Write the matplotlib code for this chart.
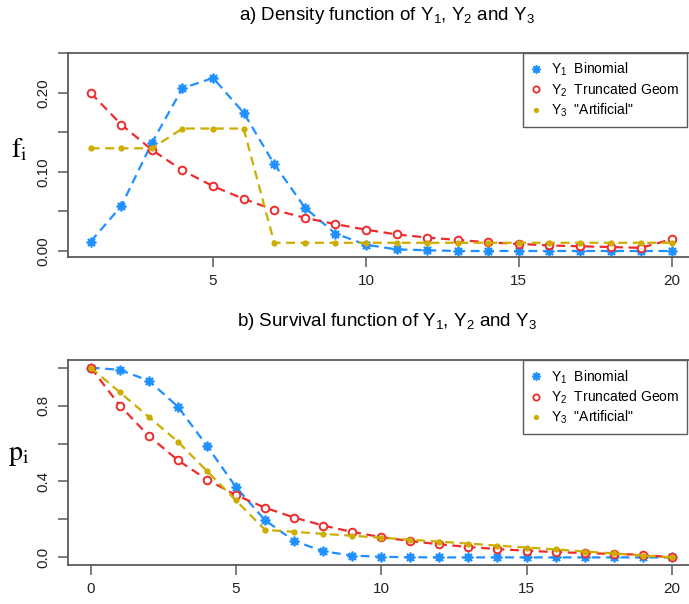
import matplotlib.pyplot as plt
from matplotlib.lines import Line2D

plt.rcParams['font.family'] = ['Liberation Sans', 'DejaVu Sans']
plt.rcParams['mathtext.default'] = 'regular'
plt.rcParams['mathtext.fontset'] = 'stix'

# support points
x_dens = list(range(1, 21))
x_surv = list(range(0, 21))

# densities f_i
f_binom = [0.012, 0.057, 0.137, 0.206, 0.219, 0.175, 0.110, 0.055, 0.022, 0.008,
           0.002, 0.001, 0.000, 0.000, 0.000, 0.000, 0.000, 0.000, 0.000, 0.000]
f_geom = [0.200, 0.160, 0.128, 0.102, 0.082, 0.066, 0.052, 0.042, 0.034, 0.027,
          0.021, 0.017, 0.014, 0.011, 0.009, 0.007, 0.006, 0.005, 0.004, 0.015]
f_art = [0.130, 0.130, 0.130, 0.155, 0.155, 0.155, 0.0104, 0.0104, 0.0104, 0.0104,
         0.0104, 0.0104, 0.0104, 0.0104, 0.0104, 0.0104, 0.0104, 0.0104, 0.0104, 0.0104]

# survival p_i
p_binom = [1.000, 0.988, 0.931, 0.794, 0.588, 0.370, 0.196, 0.087, 0.032, 0.010, 0.003,
           0.001, 0.000, 0.000, 0.000, 0.000, 0.000, 0.000, 0.000, 0.000, 0.000]
p_geom = [1.000, 0.800, 0.640, 0.512, 0.410, 0.328, 0.262, 0.210, 0.168, 0.134, 0.107,
          0.086, 0.069, 0.055, 0.044, 0.035, 0.028, 0.023, 0.018, 0.014, 0.000]
p_art = [1.000, 0.870, 0.740, 0.610, 0.455, 0.300, 0.145, 0.135, 0.124, 0.114, 0.104,
         0.093, 0.083, 0.073, 0.062, 0.052, 0.042, 0.031, 0.021, 0.010, 0.000]

labels = [r'$Y_1$  Binomial', r'$Y_2$  Truncated Geom', r'$Y_3$  "Artificial"']

blue = '#1E90FF'
red = '#EE2C2C'
gold = '#CDAD00'
axcol = '#5a5a5a'
dash = (0, (4, 2.5))

styles = [
    dict(color=blue, marker=(8, 2, 0), ms=7, mew=1.3),
    dict(color=red, marker='o', ms=5.5, mew=1.4, mfc='white'),
    dict(color=gold, marker='o', ms=4.5, mew=0),
]
leg_styles = [
    dict(color=blue, marker=(8, 2, 0), ms=6, mew=1.2),
    dict(color=red, marker='o', ms=4.5, mew=1.3, mfc='white'),
    dict(color=gold, marker='o', ms=3.8, mew=0),
]

fig = plt.figure(figsize=(6.89, 6.04), dpi=100)
W, H = 689.0, 604.0
ax1 = fig.add_axes([67.5 / W, 1 - 257 / H, (695 - 67.5) / W, (257 - 52.7) / H])
ax2 = fig.add_axes([67.5 / W, 1 - 565 / H, (695 - 67.5) / W, (565 - 360) / H])

for y, st in zip([f_binom, f_geom, f_art], styles):
    ax1.plot(x_dens, y, ls=dash, lw=1.6, **st)
for y, st in zip([p_binom, p_geom, p_art], styles):
    ax2.plot(x_surv, y, ls=dash, lw=1.6, **st)

ax1.set_xlim(0.24, 20.76)
ax1.set_ylim(-0.0076, 0.251)
ax1.set_xticks([5, 10, 15, 20])
ax1.set_yticks([0, 0.05, 0.10, 0.15, 0.20, 0.25])
ax1.set_yticklabels(['0.00', '', '0.10', '', '0.20', ''])

ax2.set_xlim(-0.8, 20.8)
ax2.set_ylim(-0.04, 1.04)
ax2.set_xticks([0, 5, 10, 15, 20])
ax2.set_yticks([0, 0.2, 0.4, 0.6, 0.8, 1.0])
ax2.set_yticklabels(['0.0', '', '0.4', '', '0.8', ''])

for ax in (ax1, ax2):
    for sp in ax.spines.values():
        sp.set_color(axcol)
        sp.set_linewidth(1.3)
    ax.tick_params(direction='out', length=7, width=1.1, color=axcol,
                   labelcolor='#222222', labelsize=11, pad=5)
    ax.tick_params(axis='y', labelrotation=90)
    for lab in ax.get_yticklabels():
        lab.set_va('center')
    handles = [Line2D([], [], ls='none', **st) for st in leg_styles]
    leg = ax.legend(handles, labels, loc='upper left', bbox_to_anchor=(0.726, 1.0),
                    borderaxespad=0, fancybox=False, framealpha=1, edgecolor=axcol,
                    fontsize=10, handlelength=0.6, handletextpad=0.8,
                    labelspacing=0.2, borderpad=0.6)
    leg.get_frame().set_linewidth(1.0)

fig.text(387 / W, 1 - 16 / H, r'a) Density function of $Y_1$, $Y_2$ and $Y_3$',
         ha='center', va='center', fontsize=13.5)
fig.text(387 / W, 1 - 321 / H, r'b) Survival function of $Y_1$, $Y_2$ and $Y_3$',
         ha='center', va='center', fontsize=13.5)

fig.text(19 / W, 1 - 150 / H, r'$\mathrm{f_i}$', ha='center', va='center', fontsize=20)
fig.text(19 / W, 1 - 455 / H, r'$\mathrm{p_i}$', ha='center', va='center', fontsize=20)

fig.savefig('out.png', dpi=100)
